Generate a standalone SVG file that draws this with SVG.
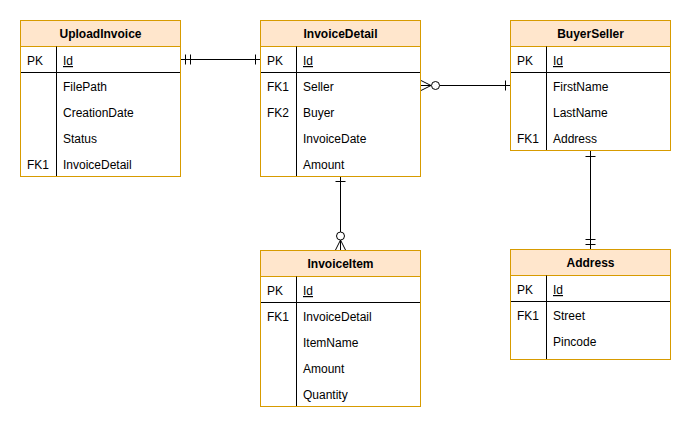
<svg xmlns="http://www.w3.org/2000/svg" width="691" height="429" viewBox="0 0 691 429">
  <style>
    .frame { fill: #ffffff; stroke: #d79b00; stroke-width: 1; }
    .head { fill: #ffe6cc; stroke: #d79b00; stroke-width: 1; }
    .sep { stroke: #000000; stroke-width: 1; fill: none; }
    .title { font-family: "Liberation Sans", Arial, sans-serif; font-size: 12px; font-weight: bold; fill: #000; text-anchor: middle; }
    .cell { font-family: "Liberation Sans", Arial, sans-serif; font-size: 12px; fill: #000; }
    .key { text-decoration: underline; }
    .conn { stroke: #000000; stroke-width: 1; fill: none; }
    .ring { stroke: #000000; stroke-width: 1; fill: #ffffff; }
  </style>

  <!-- UploadInvoice -->
  <g id="UploadInvoice">
    <rect class="frame" x="20.5" y="20.5" width="160" height="156"/>
    <rect class="head" x="20.5" y="20.5" width="160" height="26"/>
    <text class="title" x="100.5" y="38">UploadInvoice</text>
    <line class="sep" x1="56.5" y1="46.5" x2="56.5" y2="176"/>
    <line class="sep" x1="21" y1="72.5" x2="180" y2="72.5"/>
    <text class="cell" x="27" y="65">PK</text>
    <text class="cell key" x="63" y="65">Id</text>
    <text class="cell" x="63" y="91">FilePath</text>
    <text class="cell" x="63" y="117">CreationDate</text>
    <text class="cell" x="63" y="143">Status</text>
    <text class="cell" x="27" y="169">FK1</text>
    <text class="cell" x="63" y="169">InvoiceDetail</text>
  </g>

  <!-- InvoiceDetail -->
  <g id="InvoiceDetail">
    <rect class="frame" x="260.5" y="20.5" width="160" height="156"/>
    <rect class="head" x="260.5" y="20.5" width="160" height="26"/>
    <text class="title" x="340.5" y="38">InvoiceDetail</text>
    <line class="sep" x1="296.5" y1="46.5" x2="296.5" y2="176"/>
    <line class="sep" x1="261" y1="72.5" x2="420" y2="72.5"/>
    <text class="cell" x="267" y="65">PK</text>
    <text class="cell key" x="303" y="65">Id</text>
    <text class="cell" x="267" y="91">FK1</text>
    <text class="cell" x="303" y="91">Seller</text>
    <text class="cell" x="267" y="117">FK2</text>
    <text class="cell" x="303" y="117">Buyer</text>
    <text class="cell" x="303" y="143">InvoiceDate</text>
    <text class="cell" x="303" y="169">Amount</text>
  </g>

  <!-- BuyerSeller -->
  <g id="BuyerSeller">
    <rect class="frame" x="510.5" y="20.5" width="160" height="130"/>
    <rect class="head" x="510.5" y="20.5" width="160" height="26"/>
    <text class="title" x="590.5" y="38">BuyerSeller</text>
    <line class="sep" x1="546.5" y1="46.5" x2="546.5" y2="150"/>
    <line class="sep" x1="511" y1="72.5" x2="670" y2="72.5"/>
    <text class="cell" x="517" y="65">PK</text>
    <text class="cell key" x="553" y="65">Id</text>
    <text class="cell" x="553" y="91">FirstName</text>
    <text class="cell" x="553" y="117">LastName</text>
    <text class="cell" x="517" y="143">FK1</text>
    <text class="cell" x="553" y="143">Address</text>
  </g>

  <!-- InvoiceItem -->
  <g id="InvoiceItem">
    <rect class="frame" x="260.5" y="250.5" width="160" height="156"/>
    <rect class="head" x="260.5" y="250.5" width="160" height="26"/>
    <text class="title" x="340.5" y="268">InvoiceItem</text>
    <line class="sep" x1="296.5" y1="276.5" x2="296.5" y2="406"/>
    <line class="sep" x1="261" y1="302.5" x2="420" y2="302.5"/>
    <text class="cell" x="267" y="295">PK</text>
    <text class="cell key" x="303" y="295">Id</text>
    <text class="cell" x="267" y="321">FK1</text>
    <text class="cell" x="303" y="321">InvoiceDetail</text>
    <text class="cell" x="303" y="347">ItemName</text>
    <text class="cell" x="303" y="373">Amount</text>
    <text class="cell" x="303" y="399">Quantity</text>
  </g>

  <!-- Address -->
  <g id="Address">
    <rect class="frame" x="510.5" y="249.5" width="160" height="110"/>
    <rect class="head" x="510.5" y="249.5" width="160" height="26"/>
    <text class="title" x="590.5" y="267">Address</text>
    <line class="sep" x1="546.5" y1="275.5" x2="546.5" y2="359"/>
    <line class="sep" x1="511" y1="301.5" x2="670" y2="301.5"/>
    <text class="cell" x="517" y="294">PK</text>
    <text class="cell key" x="553" y="294">Id</text>
    <text class="cell" x="517" y="320">FK1</text>
    <text class="cell" x="553" y="320">Street</text>
    <text class="cell" x="553" y="346">Pincode</text>
  </g>

  <!-- relationships -->
  <g id="connectors">
    <!-- UploadInvoice.Id to InvoiceDetail.Id : one-and-only-one to one -->
    <path class="conn" d="M181 59.5 H260 M185.5 54.5 V64.5 M190.5 54.5 V64.5 M255.5 54.5 V64.5"/>

    <!-- InvoiceDetail.Seller to BuyerSeller : zero-or-many to one -->
    <path class="conn" d="M439.5 85.5 H510 M505.5 80.5 V90.5 M421 80.5 L431 85.5 L421 90.5 M421 85.5 H431"/>
    <circle class="ring" cx="435.5" cy="85.5" r="4"/>

    <!-- InvoiceDetail to InvoiceItem : one to zero-or-many -->
    <path class="conn" d="M340.5 177 V232 M335.5 181.5 H345.5 M335.5 250 L340.5 240 L345.5 250 M340.5 250 V240"/>
    <circle class="ring" cx="340.5" cy="236" r="4"/>

    <!-- BuyerSeller to Address : one to one-and-only-one -->
    <path class="conn" d="M590.5 151 V249 M585.5 156.5 H595.5 M585.5 239.5 H595.5 M585.5 244.5 H595.5"/>
  </g>
</svg>
